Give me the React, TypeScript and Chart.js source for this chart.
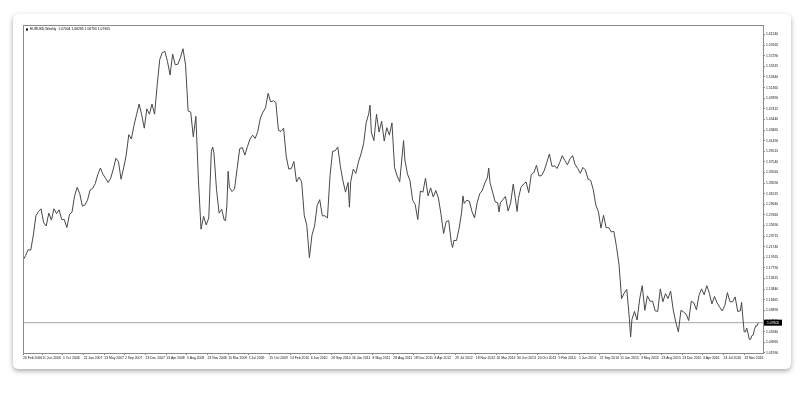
import React, { useEffect, useRef } from "react";
import { Chart, registerables } from "chart.js";

Chart.register(...registerables);

const symbolTitle = "EURUSD,Weekly";
const titleQuotes = ["1.07004", "1.08285", "1.06790", "1.07605"];
const currentPrice = 1.07605;

// week index counted from the bar of 26 Feb 2006
const weeks = [
  0, 2, 4, 6, 8, 10, 12, 14, 16, 18, 20, 22, 24, 26, 28, 30, 32, 34, 36, 38, 40, 42, 44, 46, 48, 50,
  52, 54, 56, 58, 60, 62, 64, 66, 68, 70, 72, 74, 76, 78, 80, 82, 84, 86, 88, 90, 92, 94, 96, 98, 100, 102,
  104, 106, 108, 110, 112, 114, 116, 118, 120, 122, 124, 126, 128, 130, 132, 134, 136, 138, 140, 142, 144, 146, 147, 148, 150, 152, 154,
  156, 157, 158, 159, 160, 162, 164, 166, 168, 170, 172, 174, 176, 178, 180, 182, 184, 186, 188, 190, 192, 194, 196, 198, 200, 202, 204, 206,
  208, 210, 212, 214, 216, 218, 220, 222, 224, 226, 228, 230, 232, 234, 236, 238, 240, 242, 244, 246, 248, 250, 252, 253, 254, 256, 258,
  260, 262, 264, 266, 268, 269, 270, 272, 274, 276, 278, 280, 282, 284, 286, 288, 290, 292, 294, 295, 296, 298, 300, 302, 304, 306, 308, 310,
  312, 314, 316, 318, 320, 322, 324, 326, 328, 330, 332, 333, 334, 336, 338, 340, 341, 342, 344, 346, 348, 350, 352, 354, 356, 358, 360, 361, 362,
  364, 366, 368, 369, 370, 372, 374, 376, 378, 380, 382, 383, 384, 386, 388, 390, 392, 394, 396, 398, 400, 402, 404, 406, 408, 410, 412, 414,
  416, 418, 420, 422, 424, 426, 428, 430, 432, 434, 436, 438, 440, 442, 444, 446, 448, 450, 452, 454, 456, 458, 460, 462, 464, 466,
  468, 470, 471, 472, 474, 476, 478, 480, 482, 484, 486, 488, 490, 492, 494, 496, 498, 500, 502, 504, 506, 508, 510, 512, 514, 516, 518,
  520, 522, 524, 526, 528, 530, 532, 534, 536, 538, 540, 542, 544, 546, 548, 550, 552, 554, 556, 557, 558, 559, 560, 561, 562, 563, 564, 565, 566, 567, 568, 569, 570,
];

const prices = [
  1.1920, 1.2010, 1.2120, 1.2110, 1.2390, 1.2750, 1.2830, 1.2880, 1.2620, 1.2560, 1.2800, 1.2670, 1.2880, 1.2790, 1.2860, 1.2680, 1.2680, 1.2530, 1.2770, 1.2820, 1.3120, 1.3280, 1.3160, 1.2930, 1.2950, 1.3040,
  1.3230, 1.3260, 1.3350, 1.3520, 1.3640, 1.3520, 1.3450, 1.3370, 1.3450, 1.3620, 1.3820, 1.3760, 1.3430, 1.3640, 1.3880, 1.4260, 1.4180, 1.4430, 1.4630, 1.4830, 1.4630, 1.4380, 1.4740, 1.4640, 1.4830, 1.4640,
  1.5180, 1.5660, 1.5790, 1.5810, 1.5620, 1.5370, 1.5760, 1.5560, 1.5570, 1.5690, 1.5860, 1.5560, 1.4700, 1.4680, 1.4220, 1.4600, 1.3400, 1.2500, 1.2740, 1.2580, 1.2710, 1.3950, 1.4030, 1.3920, 1.3240, 1.2800, 1.2870,
  1.2670, 1.2660, 1.2930, 1.3580, 1.3280, 1.3200, 1.3250, 1.3630, 1.4000, 1.4020, 1.3880, 1.4040, 1.4180, 1.4250, 1.4190, 1.4320, 1.4570, 1.4680, 1.4760, 1.5030, 1.4870, 1.4890, 1.4860, 1.4340, 1.4320, 1.4380, 1.3860, 1.3620,
  1.3630, 1.3760, 1.3380, 1.3470, 1.3380, 1.2760, 1.2570, 1.1970, 1.2390, 1.2560, 1.2940, 1.3050, 1.2750, 1.2750, 1.2710, 1.3500, 1.3950, 1.3960, 1.4030, 1.3670, 1.3400, 1.3190, 1.3370, 1.2910, 1.3380, 1.3620, 1.3540,
  1.3750, 1.3900, 1.4090, 1.4480, 1.4650, 1.4810, 1.4310, 1.4150, 1.4640, 1.4310, 1.4510, 1.4140, 1.4390, 1.4250, 1.4480, 1.3650, 1.3490, 1.3380, 1.3900, 1.4150, 1.3790, 1.3530, 1.3400, 1.3040, 1.2960, 1.2680, 1.3210, 1.3190,
  1.3450, 1.3120, 1.3270, 1.3100, 1.3220, 1.3080, 1.2780, 1.2420, 1.2640, 1.2660, 1.2250, 1.2160, 1.2290, 1.2290, 1.2510, 1.2810, 1.3120, 1.2980, 1.3040, 1.3020, 1.2830, 1.2710, 1.2990, 1.3160, 1.3220, 1.3360, 1.3460, 1.3640, 1.3370,
  1.3190, 1.3010, 1.2990, 1.2820, 1.2990, 1.3050, 1.3110, 1.2840, 1.2990, 1.3340, 1.3010, 1.2830, 1.3070, 1.3280, 1.3340, 1.3380, 1.3180, 1.3520, 1.3550, 1.3690, 1.3490, 1.3500, 1.3590, 1.3740, 1.3900, 1.3670, 1.3680, 1.3630,
  1.3740, 1.3870, 1.3780, 1.3700, 1.3810, 1.3870, 1.3700, 1.3630, 1.3540, 1.3650, 1.3600, 1.3430, 1.3410, 1.3240, 1.2950, 1.2830, 1.2520, 1.2760, 1.2530, 1.2530, 1.2450, 1.2460, 1.2180, 1.1840, 1.1210, 1.1310,
  1.1380, 1.0840, 1.0495, 1.0820, 1.0970, 1.0810, 1.1200, 1.1450, 1.0990, 1.1260, 1.1160, 1.1160, 1.0980, 1.0970, 1.1390, 1.1150, 1.1300, 1.1210, 1.1350, 1.1000, 1.0770, 1.0590, 1.0990, 1.0960, 1.0920, 1.0800, 1.1160,
  1.1130, 1.1000, 1.1270, 1.1390, 1.1280, 1.1450, 1.1310, 1.1110, 1.1250, 1.1130, 1.1050, 1.0980, 1.1080, 1.1320, 1.1150, 1.1150, 1.1240, 1.0970, 1.0980, 1.1140, 1.0850, 1.0590, 1.0590, 1.0660, 1.0560, 1.0450, 1.0450, 1.0520, 1.0530, 1.0640, 1.0700, 1.0700, 1.0760,
];

const xTickWeeks = [
  0, 15, 31, 47, 63, 79, 95, 111, 127, 143, 159, 175, 191, 207, 223, 239, 255, 271,
  287, 303, 319, 335, 351, 367, 383, 399, 415, 431, 447, 463, 479, 495, 511, 527, 543, 559,
];
const xTickLabels = [
  "26 Feb 2006", "11 Jun 2006", "1 Oct 2006", "21 Jan 2007", "13 May 2007", "2 Sep 2007",
  "23 Dec 2007", "13 Apr 2008", "3 Aug 2008", "23 Nov 2008", "15 Mar 2009", "5 Jul 2009",
  "25 Oct 2009", "14 Feb 2010", "6 Jun 2010", "26 Sep 2010", "16 Jan 2011", "8 May 2011",
  "28 Aug 2011", "18 Dec 2011", "8 Apr 2012", "29 Jul 2012", "18 Nov 2012", "10 Mar 2013",
  "30 Jun 2013", "20 Oct 2013", "9 Feb 2014", "1 Jun 2014", "21 Sep 2014", "11 Jan 2015",
  "3 May 2015", "23 Aug 2015", "13 Dec 2015", "3 Apr 2016", "24 Jul 2016", "13 Nov 2016",
];

const yTickLabels = [
  "1.61240", "1.59265", "1.57290", "1.55315", "1.53340", "1.51365", "1.49390", "1.47415",
  "1.45440", "1.43465", "1.41490", "1.39515", "1.37540", "1.35565", "1.33590", "1.31615",
  "1.29640", "1.27665", "1.25690", "1.23715", "1.21740", "1.19765", "1.17790", "1.15815",
  "1.13840", "1.11865", "1.09890", "1.07915", "1.05940", "1.03965", "1.01990",
];

const xMin = 0;
const xMax = 573.6;
const yMin = 1.0196;
const yMax = 1.6301;

const FONT = '"Liberation Sans", Arial, sans-serif';
const FSIZE = 3.4;

const decorPlugin = {
  id: "decor",
  afterDraw(chart: any) {
    const { ctx, chartArea: a, scales } = chart;
    ctx.save();
    ctx.strokeStyle = "#8a8a8a";
    ctx.lineWidth = 1;
    ctx.strokeRect(
      Math.round(a.left) + 0.5,
      Math.round(a.top) + 0.5,
      Math.round(a.right - a.left),
      Math.round(a.bottom - a.top)
    );
    ctx.font = `${FSIZE}px ${FONT}`;
    ctx.textBaseline = "middle";
    ctx.textAlign = "left";
    ctx.fillStyle = "#000";
    ctx.fillRect(a.left + 3, a.top + 3.5, 2, 2);
    ctx.fillText(`${symbolTitle}  ${titleQuotes.join(" ")}`, a.left + 7, a.top + 4.5);
    const y = scales.y.getPixelForValue(currentPrice);
    ctx.fillStyle = "#000";
    ctx.fillRect(a.right + 1, y - 3, 18, 6);
    ctx.fillStyle = "#fff";
    ctx.fillText(currentPrice.toFixed(5), a.right + 4, y);
    ctx.restore();
  },
};

export default function App() {
  const canvasRef = useRef<HTMLCanvasElement | null>(null);

  useEffect(() => {
    const canvas = canvasRef.current;
    if (!canvas) return;
    const series = weeks.map((w, i) => ({ x: w, y: prices[i] }));
    const chart = new Chart(canvas, {
      type: "line",
      data: {
        datasets: [
          {
            data: series,
            borderColor: "#484848",
            borderWidth: 1,
            pointRadius: 0,
            tension: 0,
            fill: false,
          },
          {
            data: [
              { x: xMin, y: currentPrice },
              { x: xMax, y: currentPrice },
            ],
            borderColor: "#a6a6a6",
            borderWidth: 1,
            pointRadius: 0,
            fill: false,
          },
        ],
      },
      options: {
        responsive: false,
        animation: false,
        devicePixelRatio: 1,
        layout: { padding: { left: 23, top: 25, right: 7, bottom: 35 } },
        plugins: { legend: { display: false }, tooltip: { enabled: false }, title: { display: false } },
        scales: {
          x: {
            type: "linear",
            min: xMin,
            max: xMax,
            border: { display: false },
            grid: { drawOnChartArea: false, drawTicks: true, tickLength: 2, color: "#8a8a8a" },
            afterFit: (s: any) => {
              s.height = 12;
            },
            afterBuildTicks: (axis: any) => {
              axis.ticks = xTickWeeks.map((v) => ({ value: v }));
            },
            ticks: {
              autoSkip: false,
              maxRotation: 0,
              minRotation: 0,
              align: "start",
              padding: 1,
              color: "#111",
              font: { size: FSIZE, family: FONT },
              callback: (v: any) => {
                const i = xTickWeeks.indexOf(Number(v));
                return i >= 0 ? xTickLabels[i] : "";
              },
            },
          },
          y: {
            type: "linear",
            position: "right",
            min: yMin,
            max: yMax,
            border: { display: false },
            grid: { drawOnChartArea: false, drawTicks: true, tickLength: 2, color: "#8a8a8a" },
            afterFit: (s: any) => {
              s.width = 30;
            },
            afterBuildTicks: (axis: any) => {
              axis.ticks = yTickLabels.map((t) => ({ value: parseFloat(t) }));
            },
            ticks: {
              autoSkip: false,
              padding: 1,
              color: "#111",
              font: { size: FSIZE, family: FONT },
              callback: (v: any) => Number(v).toFixed(5),
            },
          },
        },
      },
      plugins: [decorPlugin],
    });
    return () => chart.destroy();
  }, []);

  return (
    <div style={{ position: "fixed", left: 0, top: 0, width: 800, height: 400, background: "#fff" }}>
      <div
        style={{
          position: "absolute",
          left: 13,
          top: 14,
          width: 778,
          height: 355,
          background: "#fff",
          borderRadius: 5,
          boxShadow: "0 2px 5px rgba(0,0,0,0.35)",
        }}
      />
      <canvas
        ref={canvasRef}
        width={800}
        height={400}
        style={{ position: "absolute", left: 0, top: 0, width: 800, height: 400 }}
      />
    </div>
  );
}
